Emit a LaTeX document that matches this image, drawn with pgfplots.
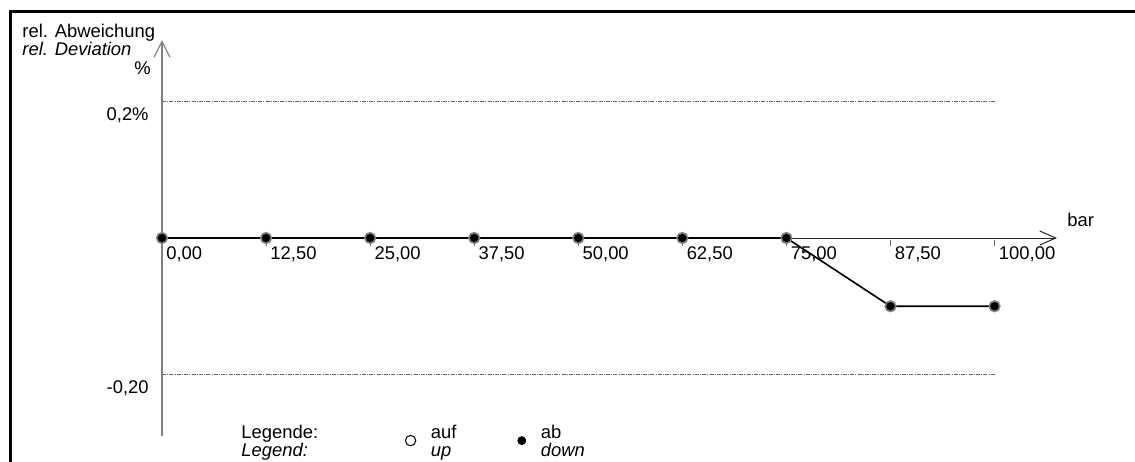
\documentclass[border=0pt]{standalone}
\usepackage{fontspec}
\setmainfont{Liberation Sans}
\usepackage{pgfplots}
\pgfplotsset{compat=1.18}
\usetikzlibrary{arrows.meta}
\newcommand{\chartfont}{\fontsize{9.2bp}{9bp}\selectfont}
\pgfplotsset{markonly legend/.style={legend image code/.code={\draw[##1] plot coordinates {(0bp,-1.3bp)};}}}

\begin{document}
\begin{tikzpicture}[font=\chartfont]
\useasboundingbox (0,0) rectangle (567.5bp,-231bp);
% frame
\draw[line width=1.5bp] (5.25bp,-240bp) -- (5.25bp,-5.75bp) -- (575bp,-5.75bp);

\begin{axis}[
  at={(81bp,-119bp)}, anchor=origin,
  scale only axis, width=447.5bp, height=198bp,
  xmin=0, xmax=107.5, ymin=-0.29, ymax=0.29,
  axis lines=middle,
  x axis line style={black!85, line width=0.5bp, -{Straight Barb[length=8bp,width=7bp]}},
  y axis line style={black!50, line width=0.6bp, -{Straight Barb[length=8bp,width=8bp]}},
  hide obscured x ticks=false, hide obscured y ticks=false,
  xtick={0,12.5,25,37.5,50,62.5,75,87.5,100},
  xticklabels={{0,00},{12,50},{25,00},{37,50},{50,00},{62,50},{75,00},{87,50},{100,00}},
  ytick={-0.2,0.2},
  yticklabels={{-0,20},{0,2\%}},
  major tick length=3bp,
  xtick style={black!60, line width=0.4bp, yshift=-2.5bp},
  ytick style={draw=none},
  ticklabel style={font=\chartfont},
  xticklabel style={anchor=north west, inner sep=0pt, xshift=2bp, yshift=-2.5bp},
  yticklabel style={anchor=north east, inner sep=0pt, xshift=-5bp, yshift=-3bp},
  clip=false,
  legend columns=3,
  legend cell align=left,
  legend style={at={(axis description cs:0.0715,0.029)}, anchor=north west,
    draw=none, fill=none, inner sep=0pt, nodes={inner sep=0pt},
    column sep=0pt, font=\chartfont,
    /tikz/every odd column/.append style={column sep=7.5bp}},
]

% limit lines
\addplot[forget plot, black!60, line width=0.5bp,
  dash pattern=on 2bp off 0.6bp on 0.5bp off 0.6bp]
  coordinates {(0,0.2) (100,0.2)};
\addplot[forget plot, black!60, line width=0.5bp,
  dash pattern=on 2bp off 0.6bp on 0.5bp off 0.6bp]
  coordinates {(0,-0.2) (100,-0.2)};

% auf / up
\addplot[forget plot, black!50, line width=0.5bp, mark=o, mark size=2.6bp,
  mark options={line width=0.9bp, black!50}]
  coordinates {
(0,0)
(12.5,0)
(25,0)
(37.5,0)
(50,0)
(62.5,0)
(75,0)
(87.5,-0.1)
(100,-0.1)
};

% ab / down
\addplot[forget plot, black, line width=0.8bp, mark=*, mark size=1.7bp]
  coordinates {
(0,0)
(12.5,0)
(25,0)
(37.5,0)
(50,0)
(62.5,0)
(75,0)
(87.5,-0.1)
(100,-0.1)
};

\addlegendimage{empty legend}
\addlegendentry{\begin{tabular}{@{}p{82bp}@{}}Legende:\\\textit{Legend:}\end{tabular}}
\addlegendimage{only marks, mark=o, black, mark size=2.6bp, mark options={line width=0.5bp}, markonly legend}
\addlegendentry{\begin{tabular}{@{}p{43.5bp}@{}}auf\\\textit{up}\end{tabular}}
\addlegendimage{only marks, mark=*, black, mark size=2bp, markonly legend}
\addlegendentry{\begin{tabular}{@{}l@{}}ab\\\textit{down}\end{tabular}}
\end{axis}

\begin{scope}[x=0.5bp,y=-0.5bp,every node/.style={inner sep=0pt}]
\node[anchor=base west] at (22,37) {rel. Abweichung};
\node[anchor=base west] at (22,55) {\textit{rel. Deviation}};
\node[anchor=base] at (142.5,75) {\%};
\node[anchor=base west] at (1067,227) {bar};
\end{scope}
\end{tikzpicture}
\end{document}
